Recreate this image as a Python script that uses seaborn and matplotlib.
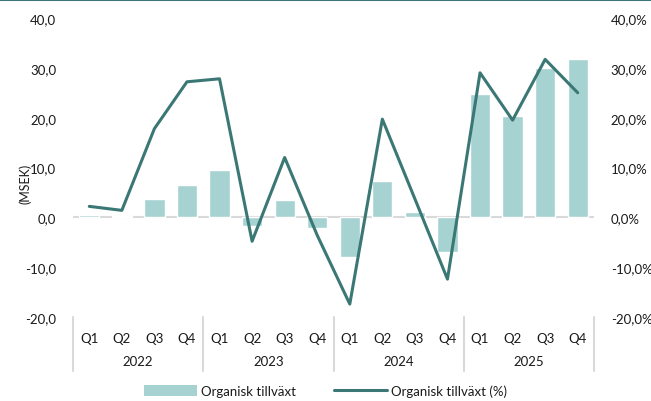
import matplotlib
matplotlib.use("Agg")
import matplotlib.pyplot as plt
from matplotlib.lines import Line2D
from matplotlib.patches import Patch
import matplotlib.transforms as mtransforms
import numpy as np
import pandas as pd
import seaborn as sns

quarters = ["Q1", "Q2", "Q3", "Q4"] * 4
years = ["2022", "2023", "2024", "2025"]
organic_msek = [0.5, 0.3, 3.6, 6.4, 9.4, -1.8, 3.4, -2.2,
                -8.0, 7.2, 1.1, -7.0, 24.8, 20.4, 30.0, 31.8]
organic_pct = [2.2, 1.4, 17.8, 27.2, 27.8, -4.8, 12.0, -3.6,
               -17.4, 19.7, 3.7, -12.4, 29.0, 19.5, 31.7, 25.0]

bar_color = "#a6d2d2"
line_color = "#3b7875"
text_color = "#1a1a1a"

sns.set_theme(style="white")
plt.rcParams["font.family"] = ["Lato", "DejaVu Sans"]

df = pd.DataFrame({
    "pos": np.arange(len(quarters)),
    "msek": organic_msek,
    "pct": organic_pct,
})

fig = plt.figure(figsize=(6.51, 4.02), dpi=100)
ax = fig.add_axes([73/651, 1 - 318/402, (594 - 73)/651, (318 - 19)/402])

sns.barplot(data=df, x="pos", y="msek", color=bar_color, width=0.62,
            saturation=1, ax=ax, zorder=2)
ax.set_xlim(-0.5, 15.5)
ax.set_ylim(-20, 40)
ax.axhline(0, color="#d9d9d9", lw=1.5, zorder=1)

ax2 = ax.twinx()
sns.lineplot(data=df, x="pos", y="pct", color=line_color, lw=2.2, ax=ax2, zorder=3)
ax2.set_ylim(-20, 40)
ax2.set_xlim(-0.5, 15.5)

for a in (ax, ax2):
    for s in a.spines.values():
        s.set_visible(False)
    a.tick_params(length=0, labelsize=9.5, labelcolor=text_color)

ticks = [-20, -10, 0, 10, 20, 30, 40]
ax.set_yticks(ticks)
ax.set_yticklabels([f"{t:.1f}".replace(".", ",") for t in ticks])
ax2.set_yticks(ticks)
ax2.set_yticklabels([f"{t:.1f}".replace(".", ",") + "%" for t in ticks])
ax.tick_params(axis="y", pad=12)
ax2.tick_params(axis="y", pad=12)

ax.set_xticks(range(len(quarters)))
ax.set_xticklabels(quarters)
ax.tick_params(axis="x", pad=11)
ax.set_xlabel("")
ax2.set_ylabel("")
ax.set_ylabel("(MSEK)", fontsize=9, color=text_color)
ax.yaxis.set_label_coords(-0.080, 0.45)

trans = mtransforms.blended_transform_factory(ax.transData, ax.transAxes)
for i, y in enumerate(years):
    ax.text(i * 4 + 1.5, -44 / 299, y, transform=trans, ha="center", va="center",
            fontsize=9.5, color=text_color)
for xsep in [-0.5, 3.5, 7.5, 11.5, 15.5]:
    ax.plot([xsep, xsep], [0, -54 / 299], transform=trans, color="#d9d9d9",
            lw=1.5, clip_on=False)

handles = [Patch(facecolor=bar_color, edgecolor="none"),
           Line2D([0], [0], color=line_color, lw=2.2)]
fig.legend(handles, ["Organisk tillväxt", "Organisk tillväxt (%)"],
           loc="center", bbox_to_anchor=(0.5, 1 - 392/402), ncol=2, frameon=False,
           fontsize=9.5, handlelength=4.0, handleheight=0.9, columnspacing=2.85,
           handletextpad=0.3, labelcolor=text_color)

fig.add_artist(Line2D([0, 1], [0.998, 0.998], transform=fig.transFigure,
                      color=line_color, lw=1.5))

fig.savefig("out.png", dpi=100)
